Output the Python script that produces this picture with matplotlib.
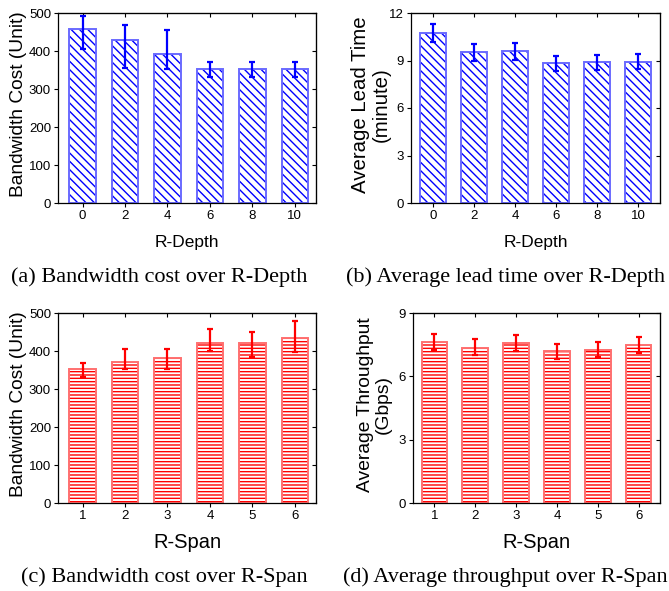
import matplotlib
matplotlib.use("Agg")
import matplotlib.pyplot as plt
import numpy as np

# ---- data ----
depth_labels = ["0", "2", "4", "6", "8", "10"]
span_labels = ["1", "2", "3", "4", "5", "6"]

bw_depth = [458, 428, 392, 353, 353, 353]
bw_depth_lo = [405, 354, 352, 331, 331, 331]
bw_depth_hi = [491, 469, 454, 370, 370, 370]

lead_depth = [10.74, 9.54, 9.60, 8.84, 8.88, 8.93]
lead_depth_lo = [10.17, 8.99, 9.05, 8.36, 8.38, 8.46]
lead_depth_hi = [11.30, 10.04, 10.10, 9.30, 9.33, 9.41]

bw_span = [353, 371, 382, 420, 421, 434]
bw_span_lo = [332, 352, 352, 400, 385, 398]
bw_span_hi = [369, 404, 404, 457, 450, 479]

thr_span = [7.63, 7.36, 7.58, 7.20, 7.27, 7.47]
thr_span_lo = [7.27, 6.99, 7.20, 6.83, 6.90, 7.10]
thr_span_hi = [8.01, 7.75, 7.96, 7.55, 7.65, 7.85]

W, H = 669, 591
fig = plt.figure(figsize=(W / 100, H / 100), dpi=100)
plt.rcParams['hatch.linewidth'] = 1.0

sans = ['Liberation Sans', 'DejaVu Sans']
serif = ['Liberation Serif', 'DejaVu Serif']


def make_ax(l, r, t, b):
    return fig.add_axes([l / W, 1 - b / H, (r - l) / W, (b - t) / H])


def panel(ax, labels, vals, lo, hi, color, light, hatch, ylim, yticks, ylabel,
          ylsize, yl_x, xlabel, xlsize, caption, cap_x, xlim, cap_y, xl_y):
    x = np.arange(len(labels))
    vals = np.array(vals)
    err = [vals - np.array(lo), np.array(hi) - vals]
    ax.bar(x, vals, width=0.62, facecolor='white', edgecolor=color,
           hatch=hatch, linewidth=0, zorder=2)
    ax.bar(x, vals, width=0.62, fill=False, edgecolor=light,
           linewidth=1.4, zorder=2.5)
    ax.errorbar(x, vals, yerr=err, fmt='none', ecolor=color, elinewidth=1.6,
                capsize=2.5, capthick=1.6, zorder=3)
    ax.set_xlim(*xlim)
    ax.set_ylim(*ylim)
    ax.set_xticks(x)
    ax.set_xticklabels(labels, fontfamily=sans, fontsize=9.5)
    ax.set_yticks(yticks)
    ax.set_yticklabels([str(v) for v in yticks], fontfamily=sans, fontsize=9.5)
    ax.tick_params(direction='out', length=3, width=0.8, pad=2)
    for s in ax.spines.values():
        s.set_linewidth(0.9)
    sx = ax.secondary_xaxis('top')
    sx.set_xticks(x)
    sx.tick_params(direction='in', length=3, width=0.8, labeltop=False)
    sy = ax.secondary_yaxis('right')
    sy.set_yticks(yticks)
    sy.tick_params(direction='in', length=3, width=0.8, labelright=False)
    ax.set_ylabel(ylabel, fontfamily=sans, fontsize=ylsize, linespacing=1.1)
    ax.yaxis.set_label_coords(yl_x, 0.52)
    pos = ax.get_position()
    cx = (pos.x0 + pos.x1) / 2
    fig.text(cx, 1 - xl_y / H, xlabel, ha='center', va='center',
             fontfamily=sans, fontsize=xlsize)
    fig.text(cap_x / W, 1 - cap_y / H, caption, ha='center', va='center',
             fontfamily=serif, fontsize=16.0)


ax_a = make_ax(58, 316, 13, 203)
panel(ax_a, depth_labels, bw_depth, bw_depth_lo, bw_depth_hi, 'blue',
      '#6a6aff', '\\\\\\\\', (0, 500), [0, 100, 200, 300, 400, 500],
      'Bandwidth Cost (Unit)', 13.8, -0.12, 'R-Depth', 12.5,
      '(a) Bandwidth cost over R-Depth', 159,
      (-0.58, 5.5), 277, 242)

ax_b = make_ax(411, 660, 13, 203)
panel(ax_b, depth_labels, lead_depth, lead_depth_lo, lead_depth_hi, 'blue',
      '#6a6aff', '\\\\\\\\', (0, 12), [0, 3, 6, 9, 12],
      'Average Lead Time\n(minute)', 14.7, -0.082, 'R-Depth', 12.5,
      '(b) Average lead time over R-Depth', 505, (-0.53, 5.53), 277, 242)

ax_c = make_ax(58, 316, 313, 503)
panel(ax_c, span_labels, bw_span, bw_span_lo, bw_span_hi, 'red',
      '#ff7070', '-----', (0, 500), [0, 100, 200, 300, 400, 500],
      'Bandwidth Cost (Unit)', 13.8, -0.12, 'R-Span', 14.5,
      '(c) Bandwidth cost over R-Span', 164,
      (-0.58, 5.5), 577, 543)

ax_d = make_ax(413, 660, 313, 503)
panel(ax_d, span_labels, thr_span, thr_span_lo, thr_span_hi, 'red',
      '#ff7070', '-----', (0, 9), [0, 3, 6, 9],
      'Average Throughput\n(Gbps)', 13.9, -0.085, 'R-Span', 14.5,
      '(d) Average throughput over R-Span', 505, (-0.52, 5.52), 577, 543)

fig.savefig('out.png', dpi=100)
